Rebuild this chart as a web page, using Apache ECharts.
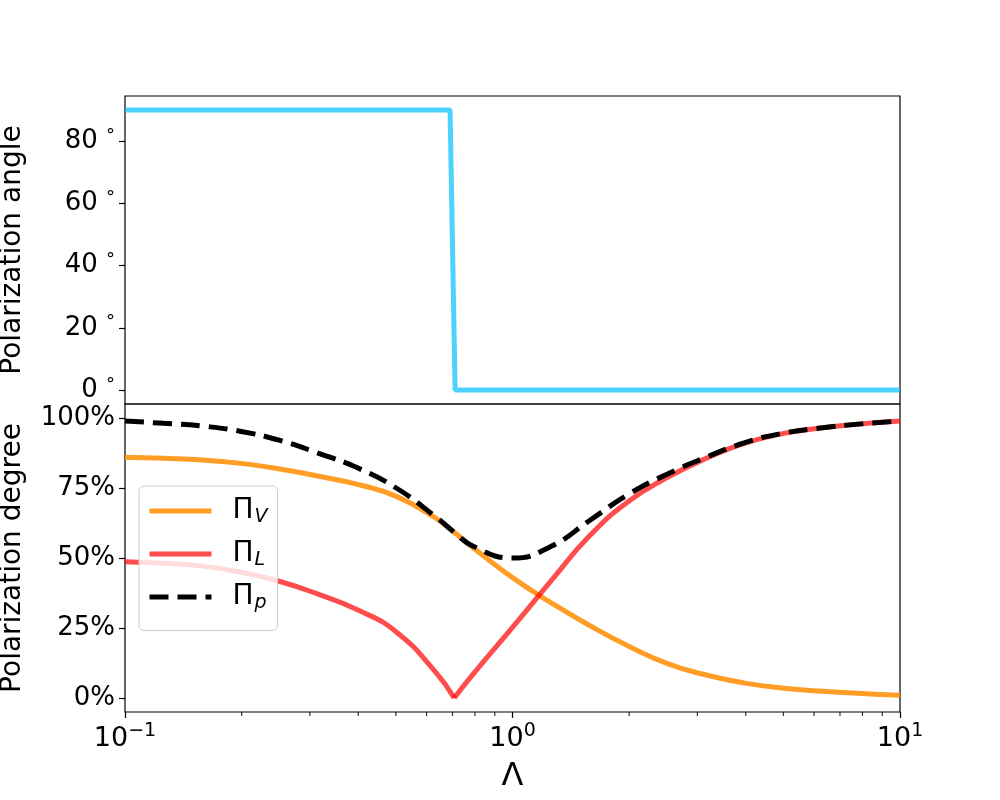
<!DOCTYPE html>
<html>
<head>
<meta charset="utf-8">
<script src="https://cdn.jsdelivr.net/npm/echarts@6/dist/echarts.min.js"></script>
<style>
html,body{margin:0;padding:0;background:#fff;}
#chart{width:1000px;height:800px;}
</style>
</head>
<body>
<div id="chart"></div>
<script>
// ---- data ----
const angleLambda = [0.1, 0.69, 0.711, 10];
const angleDeg = [90, 90, 0, 0];

const lambdas = [0.1, 0.1259, 0.1585, 0.1995, 0.2512, 0.3162, 0.3981, 0.5012, 0.631, 0.7071, 0.7943, 1, 1.259, 1.585, 1.995, 2.512, 3.162, 3.981, 5.012, 6.31, 7.943, 10];
const piV = [86.0, 85.6, 85.0, 83.8, 81.8, 79.2, 76.3, 72.0, 64.4, 59.2, 53.5, 43.0, 34.0, 25.8, 18.5, 12.3, 8.2, 5.3, 3.5, 2.4, 1.6, 1.0];
const piL = [48.7, 48.1, 47.1, 44.9, 41.6, 37.0, 31.5, 23.6, 9.5, 0, 8.8, 25.2, 41.9, 58.1, 70.3, 78.8, 85.6, 91.0, 94.5, 96.5, 97.9, 98.9];
const piP = [98.9, 98.1, 97.1, 95.2, 92.0, 87.4, 82.2, 75.0, 64.9, 59.2, 54.1, 50.0, 54.2, 63.5, 72.8, 80.0, 86.0, 91.2, 94.6, 96.5, 97.9, 98.9];
const kinkIndex = 9; // Pi_L reaches zero here

const angleTicks = [0, 20, 40, 60, 80];
const degreeTicks = [0, 25, 50, 75, 100];
const xMajorTicks = [0.1, 1, 10];
const xTickLabels = {0.1: '10{sup|−1}', 1: '10{sup|0}', 10: '10{sup|1}'};
const xMinorTicks = [0.2, 0.3, 0.4, 0.5, 0.6, 0.7, 0.8, 0.9, 2, 3, 4, 5, 6, 7, 8, 9];
const legendLabels = {PiV: 'Π{s|V}', PiL: 'Π{s|L}', PiP: 'Π{s|p}'};

// ---- build ----
const zip = (xs, ys) => xs.map((x, i) => [x, ys[i]]);
const FONT = 'DejaVu Sans';

const chart = echarts.init(document.getElementById('chart'), null, {renderer: 'canvas'});

const gridCommon = {left: 125, width: 775, height: 308, show: true, borderColor: '#000', borderWidth: 1.2,
  backgroundColor: 'transparent', containLabel: false, outerBoundsMode: 'none'};

const option = {
  backgroundColor: '#fff',
  animation: false,
  textStyle: {fontFamily: FONT},
  grid: [
    Object.assign({top: 96}, gridCommon),
    Object.assign({top: 404}, gridCommon)
  ],
  xAxis: [
    {type: 'log', logBase: 10, gridIndex: 0, min: 0.1, max: 10, show: true,
     axisLine: {show: false, onZero: false}, axisTick: {show: false}, axisLabel: {show: false}, splitLine: {show: false}},
    {type: 'log', logBase: 10, gridIndex: 1, min: 0.1, max: 10,
     name: 'Λ', nameLocation: 'middle', nameGap: 49,
     nameTextStyle: {fontFamily: FONT, fontSize: 32, color: '#000'},
     axisLine: {show: false, onZero: false},
     axisTick: {show: true, inside: false, length: 6, lineStyle: {color: '#000', width: 1.2}, customValues: xMajorTicks},
     axisLabel: {show: true, margin: 10, color: '#000', fontFamily: FONT, fontSize: 27,
       customValues: xMajorTicks,
       formatter: v => { const k = Math.abs(v - 0.1) < 1e-6 ? 0.1 : Math.round(v); return xTickLabels[k] || ''; },
       rich: {sup: {fontSize: 19, fontFamily: FONT, color: '#000', verticalAlign: 'top', padding: [0, 0, 14, 0]}}},
     splitLine: {show: false}}
  ],
  yAxis: [
    {type: 'value', gridIndex: 0, min: -4.5, max: 94.5,
     name: 'Polarization angle', nameLocation: 'middle', nameRotate: 90, nameGap: 98,
     nameTextStyle: {fontFamily: FONT, fontSize: 28, color: '#000'},
     axisLine: {show: false, onZero: false},
     axisTick: {show: true, length: 6, lineStyle: {color: '#000', width: 1.2}, customValues: angleTicks},
     axisLabel: {show: true, margin: 10, color: '#000', fontFamily: FONT, fontSize: 26, customValues: angleTicks,
       formatter: v => v + ' {d|°}',
       rich: {d: {fontSize: 18, fontFamily: FONT, color: '#000', verticalAlign: 'top', padding: [0, 0, 10, 0]}}},
     splitLine: {show: false}},
    {type: 'value', gridIndex: 1, min: -5, max: 105,
     name: 'Polarization degree', nameLocation: 'middle', nameRotate: 90, nameGap: 98,
     nameTextStyle: {fontFamily: FONT, fontSize: 28, color: '#000'},
     axisLine: {show: false, onZero: false},
     axisTick: {show: true, length: 6, lineStyle: {color: '#000', width: 1.2}, customValues: degreeTicks},
     axisLabel: {show: true, margin: 10, color: '#000', fontFamily: FONT, fontSize: 26, customValues: degreeTicks,
       formatter: v => v + '%'},
     splitLine: {show: false}}
  ],
  legend: {
    orient: 'vertical', left: 139, top: 486,
    data: ['PiV', 'PiL', 'PiP'],
    itemWidth: 62, itemHeight: 14, itemGap: 13.5,
    padding: [11, 10, 18, 8],
    backgroundColor: 'rgba(255,255,255,0.8)',
    borderColor: '#cccccc', borderWidth: 1, borderRadius: 5,
    lineStyle: {width: 5},
    itemStyle: {opacity: 0},
    formatter: n => legendLabels[n],
    textStyle: {fontFamily: FONT, fontSize: 28, color: '#000', padding: [0, 0, 0, 16],
      rich: {s: {fontFamily: FONT, fontSize: 19, fontStyle: 'italic', color: '#000', verticalAlign: 'bottom', padding: [12, 0, 0, 1]}}},
    selectedMode: false
  },
  series: [
    {type: 'line', name: 'angle', xAxisIndex: 0, yAxisIndex: 0, data: zip(angleLambda, angleDeg),
     showSymbol: false, symbol: 'none', lineStyle: {color: 'rgba(0,191,255,0.7)', width: 5}, z: 3},
    {type: 'line', name: 'PiV', xAxisIndex: 1, yAxisIndex: 1, data: zip(lambdas, piV),
     smooth: 0.5, showSymbol: false, symbol: 'none', color: 'rgba(255,140,0,0.85)', lineStyle: {color: 'rgba(255,140,0,0.85)', width: 5}, z: 3},
    {type: 'line', name: 'PiL', xAxisIndex: 1, yAxisIndex: 1,
     data: zip(lambdas.slice(0, kinkIndex + 1), piL.slice(0, kinkIndex + 1)),
     smooth: 0.5, showSymbol: false, symbol: 'none', color: 'rgba(255,0,0,0.7)', lineStyle: {color: 'rgba(255,0,0,0.7)', width: 5}, z: 3},
    {type: 'line', name: 'PiL', xAxisIndex: 1, yAxisIndex: 1,
     data: zip(lambdas.slice(kinkIndex), piL.slice(kinkIndex)),
     smooth: 0.5, showSymbol: false, symbol: 'none', color: 'rgba(255,0,0,0.7)', lineStyle: {color: 'rgba(255,0,0,0.7)', width: 5}, z: 3},
    {type: 'line', name: 'PiP', xAxisIndex: 1, yAxisIndex: 1, data: zip(lambdas, piP),
     smooth: 0.5, showSymbol: false, symbol: 'none', color: '#000', lineStyle: {color: '#000', width: 5, type: [19, 9]}, z: 4},
    {type: 'scatter', name: 'minorTicks', xAxisIndex: 1, yAxisIndex: 1, silent: true, clip: false,
     data: xMinorTicks.map(v => [v, -5]), symbol: 'rect', symbolSize: [1.2, 4], symbolOffset: [0, 2],
     itemStyle: {color: '#000'}, z: 5}
  ]
};
chart.setOption(option);
</script>
</body>
</html>
